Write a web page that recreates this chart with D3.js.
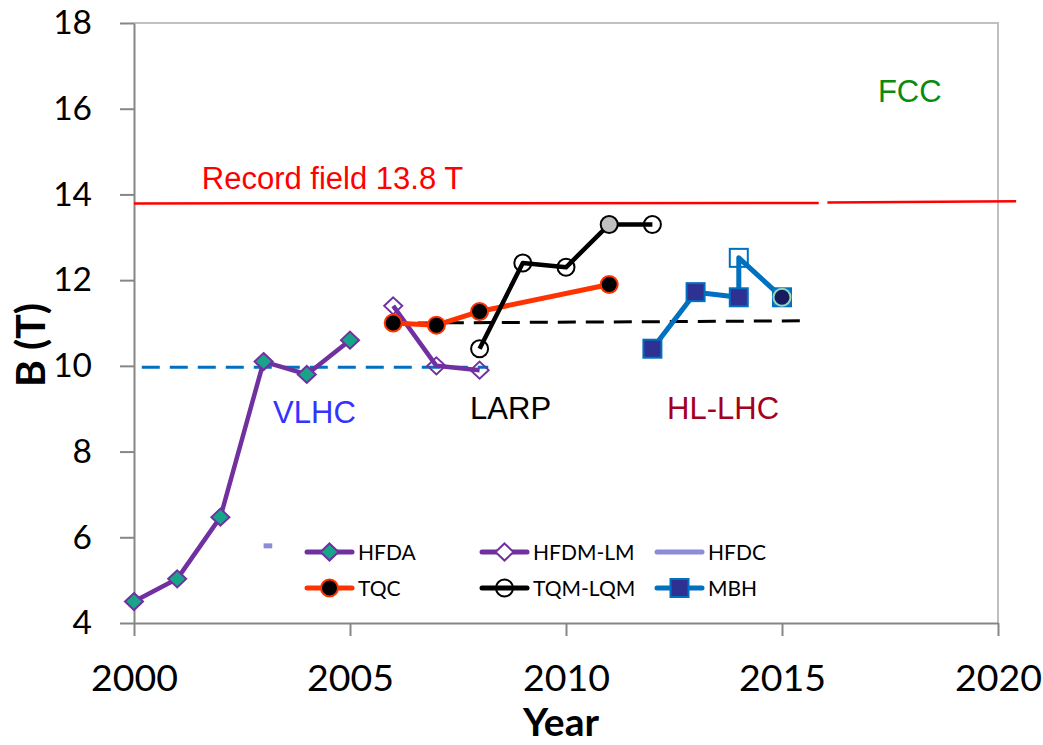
<!DOCTYPE html>
<html>
<head>
<meta charset="utf-8">
<script src="https://cdn.jsdelivr.net/npm/d3@7"></script>
<style>
  html, body { margin: 0; padding: 0; background: #fff; }
  svg { display: block; }
</style>
</head>
<body>
<svg id="chart" width="1043" height="745"></svg>
<script>
// ---- data: dipole / quadrupole field records by year ----
const hfdaYears = [2000, 2001, 2002, 2003, 2004, 2005];
const hfdaField = [4.5, 5.03, 6.47, 10.1, 9.8, 10.6];

const hfdmYears = [2006, 2007, 2008];
const hfdmField = [11.4, 10.0, 9.9];

const hfdcYears = [2003, 2003.2];
const hfdcField = [5.8, 5.8];

const tqcYears = [2006, 2007, 2008, 2011];
const tqcField = [11.0, 10.95, 11.27, 11.9];

const tqmYears = [2008, 2009, 2010, 2011, 2012];
const tqmField = [10.4, 12.4, 12.3, 13.3, 13.3];
const tqmFill  = ["none", "none", "none", "#c0c0c0", "none"];

const mbhYears = [2012, 2013, 2014, 2014, 2015];
const mbhField = [10.4, 11.72, 11.6, 12.52, 11.6];
const mbhFill  = ["#2e3192", "#2e3192", "#2e3192", "none", "#1f74c4"];

// 2015 highlight point drawn on top of the MBH square
const highlightYears = [2015];
const highlightField = [11.6];

// targets and the record line
const recordYears = [[2000, 2015.85], [2016.05, 2020.42]];
const recordField = [[13.79, 13.8], [13.81, 13.84]];
const vlhcTargetYears = [2000.18, 2008.2];
const vlhcTargetField = [9.97, 9.97];
const hlTargetYears = [2006.57, 2015.42];
const hlTargetField = [11.0, 11.05];

const xTicks = [2000, 2005, 2010, 2015, 2020];
const yTicks = [4, 6, 8, 10, 12, 14, 16, 18];

const noteTexts  = ["Record field 13.8 T", "FCC", "VLHC", "LARP", "HL-LHC"];
const noteYears  = [2001.57, 2017.22, 2003.22, 2007.78, 2012.34];
const noteFields = [14.13, 16.16, 8.67, 8.76, 8.76];
const noteColors = ["#ff0000", "#0c8a0c", "#3333ff", "#000000", "#a50021"];

const legendNames = ["HFDA", "HFDM-LM", "HFDC", "TQC", "TQM-LQM", "MBH"];

// ---- layout ----
const svg = d3.select("#chart");
const x = d3.scaleLinear().domain([2000, 2020]).range([134, 998]);
const y = d3.scaleLinear().domain([4, 18]).range([623, 23]);

const numFont = "Lato, 'Open Sans', sans-serif";
const labelFont = "'Liberation Sans', Arial, sans-serif";

const zip = (xs, ys) => xs.map((v, i) => [v, ys[i]]);
const line = d3.line().x(d => x(d[0])).y(d => y(d[1]));

// plot-area frame (top and right)
svg.append("path")
  .attr("d", `M${x(2000)},${y(18)}H${x(2020)}V${y(4)}`)
  .attr("fill", "none").attr("stroke", "#c0c0c0").attr("stroke-width", 2);

// axes
const yAxis = d3.axisLeft(y).tickValues(yTicks).tickSize(14).tickSizeOuter(0).tickPadding(28);
const gy = svg.append("g").attr("transform", `translate(${x(2000)},0)`).call(yAxis);
gy.selectAll("text").attr("font-family", numFont).attr("font-size", 33.5).attr("fill", "#000");

const xAxis = d3.axisBottom(x).tickValues(xTicks).tickFormat(d3.format("d")).tickSize(13).tickSizeOuter(0);
const gx = svg.append("g").attr("transform", `translate(0,${y(4)})`).call(xAxis);
gx.selectAll("text").attr("font-family", numFont).attr("font-size", 37.5).attr("fill", "#000")
  .attr("dy", null).attr("y", 68);

[gx, gy].forEach(g => {
  g.select(".domain").attr("stroke", "#868686").attr("stroke-width", 2);
  g.selectAll(".tick line").attr("stroke", "#868686").attr("stroke-width", 2);
});

// axis titles
svg.append("text").text("Year")
  .attr("x", 561).attr("y", 736).attr("text-anchor", "middle")
  .attr("font-family", numFont).attr("font-weight", 700).attr("font-size", 39);
svg.append("text").text("B (T)")
  .attr("transform", "translate(45,345) rotate(-90)").attr("text-anchor", "middle")
  .attr("font-family", numFont).attr("font-weight", 700).attr("font-size", 41);

// record line (drawn in two pieces)
recordYears.forEach((ys, i) => {
  svg.append("path").attr("d", line(zip(ys, recordField[i])))
    .attr("fill", "none").attr("stroke", "#ff0000").attr("stroke-width", 2.5);
});

// dashed target lines
svg.append("path").attr("d", line(zip(vlhcTargetYears, vlhcTargetField)))
  .attr("fill", "none").attr("stroke", "#0070c0").attr("stroke-width", 3)
  .attr("stroke-dasharray", "18,10");
svg.append("path").attr("d", line(zip(hlTargetYears, hlTargetField)))
  .attr("fill", "none").attr("stroke", "#000").attr("stroke-width", 3)
  .attr("stroke-dasharray", "18,10");

// text annotations
noteTexts.forEach((t, i) => {
  svg.append("text").text(t)
    .attr("x", x(noteYears[i])).attr("y", y(noteFields[i]))
    .attr("font-family", labelFont).attr("font-size", 31).attr("fill", noteColors[i]);
});

// marker helpers
const diamond = (g, cx, cy, fill, stroke) =>
  g.append("path").attr("d", `M${cx},${cy - 8.5}L${cx + 9},${cy}L${cx},${cy + 8.5}L${cx - 9},${cy}Z`)
    .attr("fill", fill).attr("stroke", stroke).attr("stroke-width", 2);
const circle = (g, cx, cy, fill, stroke, sw) =>
  g.append("circle").attr("cx", cx).attr("cy", cy).attr("r", 8.5)
    .attr("fill", fill).attr("stroke", stroke).attr("stroke-width", sw);
const square = (g, cx, cy, fill, stroke) =>
  g.append("rect").attr("x", cx - 9).attr("y", cy - 9).attr("width", 18).attr("height", 18)
    .attr("fill", fill).attr("stroke", stroke).attr("stroke-width", 2);

const series = svg.append("g");

// HFDA
series.append("path").attr("d", line(zip(hfdaYears, hfdaField)))
  .attr("fill", "none").attr("stroke", "#7030a0").attr("stroke-width", 4.5).attr("stroke-linejoin", "round");
hfdaYears.forEach((yr, i) => diamond(series, x(yr), y(hfdaField[i]), "#17a589", "#7030a0"));

// HFDM-LM
series.append("path").attr("d", line(zip(hfdmYears, hfdmField)))
  .attr("fill", "none").attr("stroke", "#7030a0").attr("stroke-width", 4.5).attr("stroke-linejoin", "round");
hfdmYears.forEach((yr, i) => diamond(series, x(yr), y(hfdmField[i]), "none", "#7030a0"));

// HFDC
series.append("path").attr("d", line(zip(hfdcYears, hfdcField)))
  .attr("fill", "none").attr("stroke", "#8c8cd8").attr("stroke-width", 5);

// TQC
series.append("path").attr("d", line(zip(tqcYears, tqcField)))
  .attr("fill", "none").attr("stroke", "#ff3300").attr("stroke-width", 5).attr("stroke-linejoin", "round");
tqcYears.forEach((yr, i) => circle(series, x(yr), y(tqcField[i]), "#000", "#ff3300", 2));

// TQM-LQM
series.append("path").attr("d", line(zip(tqmYears, tqmField)))
  .attr("fill", "none").attr("stroke", "#000").attr("stroke-width", 4.5).attr("stroke-linejoin", "round");
tqmYears.forEach((yr, i) => circle(series, x(yr), y(tqmField[i]), tqmFill[i], "#000", 2));

// MBH
series.append("path").attr("d", line(zip(mbhYears, mbhField)))
  .attr("fill", "none").attr("stroke", "#0070c0").attr("stroke-width", 5).attr("stroke-linejoin", "round");
mbhYears.forEach((yr, i) => square(series, x(yr), y(mbhField[i]), mbhFill[i], "#0070c0"));
highlightYears.forEach((yr, i) => circle(series, x(yr), y(highlightField[i]), "#1a1a5e", "#8fd8b8", 2));

// legend
const legendStyles = [
  { color: "#7030a0", width: 5, marker: (g, cx, cy) => diamond(g, cx, cy, "#17a589", "#7030a0") },
  { color: "#7030a0", width: 5, marker: (g, cx, cy) => diamond(g, cx, cy, "#fff", "#7030a0") },
  { color: "#8c8cd8", width: 5, marker: null },
  { color: "#ff3300", width: 5, marker: (g, cx, cy) => circle(g, cx, cy, "#000", "#ff3300", 2) },
  { color: "#000", width: 5, marker: (g, cx, cy) => circle(g, cx, cy, "none", "#000", 2) },
  { color: "#0070c0", width: 5, marker: (g, cx, cy) => square(g, cx, cy, "#2e3192", "#0070c0") }
];
const legend = svg.append("g");
const colX = [307, 482, 657], rowY = [552, 588];
legendNames.forEach((name, i) => {
  const lx = colX[i % 3], ly = rowY[Math.floor(i / 3)];
  const st = legendStyles[i];
  legend.append("line").attr("x1", lx).attr("x2", lx + 45).attr("y1", ly).attr("y2", ly)
    .attr("stroke", st.color).attr("stroke-width", st.width).attr("stroke-linecap", "round");
  if (st.marker) st.marker(legend, lx + 22.5, ly);
  legend.append("text").text(name).attr("x", lx + 51).attr("y", ly + 7.5)
    .attr("font-family", numFont).attr("font-size", 21).attr("fill", "#000");
});
</script>
</body>
</html>
